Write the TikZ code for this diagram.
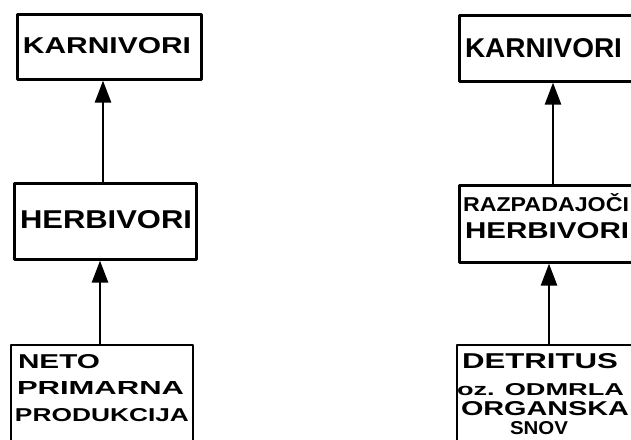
\documentclass[tikz,border=0pt]{standalone}
\usepackage{fontspec}
\usepackage{graphicx}
\setmainfont{Liberation Sans}
\usetikzlibrary{arrows.meta}

% hand-lettered caption: text stretched to a given width and cap height (pt)
\newcommand{\hand}[3]{\resizebox{#1pt}{#2pt}{\bfseries #3}}

\tikzset{
  box/.style={draw=black, line width=2.6pt, line join=round},
  lbl/.style={anchor=base west, inner sep=0pt, outer sep=0pt},
  flow/.style={draw=black, line width=2.6pt,
    -{Triangle[length=22pt, width=16pt]}, shorten >=0pt},
}

\begin{document}
\begin{tikzpicture}[x=1pt, y=-1pt]
\useasboundingbox (0,0) rectangle (631,439);
\clip (0,0) rectangle (631,439);

% ---- left chain: primary production ----
\node[box, minimum width=184pt, minimum height=65pt, anchor=north west,
      inner sep=0pt] (karnL) at (16,13) {};
\node[box, minimum width=182pt, minimum height=76pt, anchor=north west,
      inner sep=0pt] (herbL) at (13,182) {};
\draw[box] (11,460) coordinate (prodLbl) -- (11,345) coordinate (prodLtl)
  -- (193,345) coordinate (prodLtr) -- (193,460) coordinate (prodLbr);

\node[lbl] (tKarnL) at (23,53) {\hand{168}{16}{KARNIVORI}};
\node[lbl] (tHerbL) at (20,228) {\hand{172}{18}{HERBIVORI}};
\node[lbl] (tNeto) at (18,368) {\hand{82}{14}{NETO}};
\node[lbl] (tPrim) at (17,394) {\hand{167}{13}{PRIMARNA}};
\node[lbl] (tProd) at (15,421) {\hand{174}{13}{PRODUKCIJA}};

\coordinate (prodLtop) at (100,345);
\draw[flow] (herbL.north -| 103,0) -- (karnL.south -| 103,0);
\draw[flow] (prodLtop) -- (herbL.south -| prodLtop);

% ---- right chain: detritus ----
\node[box, minimum width=200pt, minimum height=66pt, anchor=north west,
      inner sep=0pt] (karnR) at (458,14) {};
\node[box, minimum width=200pt, minimum height=77pt, anchor=north west,
      inner sep=0pt] (herbR) at (458,184) {};
\draw[box] (457,460) coordinate (detRbl) -- (457,345) coordinate (detRtl)
  -- (660,345) coordinate (detRtr);

\node[lbl] (tKarnR) at (465,57) {\hand{157}{19}{KARNIVORI}};
\node[lbl] (tRazp) at (463,211) {\hand{166}{14}{RAZPADAJO\smash{Č}I}};
\node[lbl] (tHerbR) at (465,238) {\hand{164}{16}{HERBIVORI}};
\node[lbl] (tDet) at (462,368) {\hand{156}{15}{DETRITUS}};
\node[lbl] (tOz) at (457,395) {\hand{167}{12}{oz. ODMRLA}};
\node[lbl] (tOrg) at (461,415) {\hand{168}{14}{ORGANSKA}};
\node[lbl] (tSnov) at (510,434) {\hand{58}{13}{SNOV}};

\coordinate (detRtop) at (549,345);
\draw[flow] (herbR.north -| 553,0) -- (karnR.south -| 553,0);
\draw[flow] (detRtop) -- (herbR.south -| detRtop);
\end{tikzpicture}
\end{document}
